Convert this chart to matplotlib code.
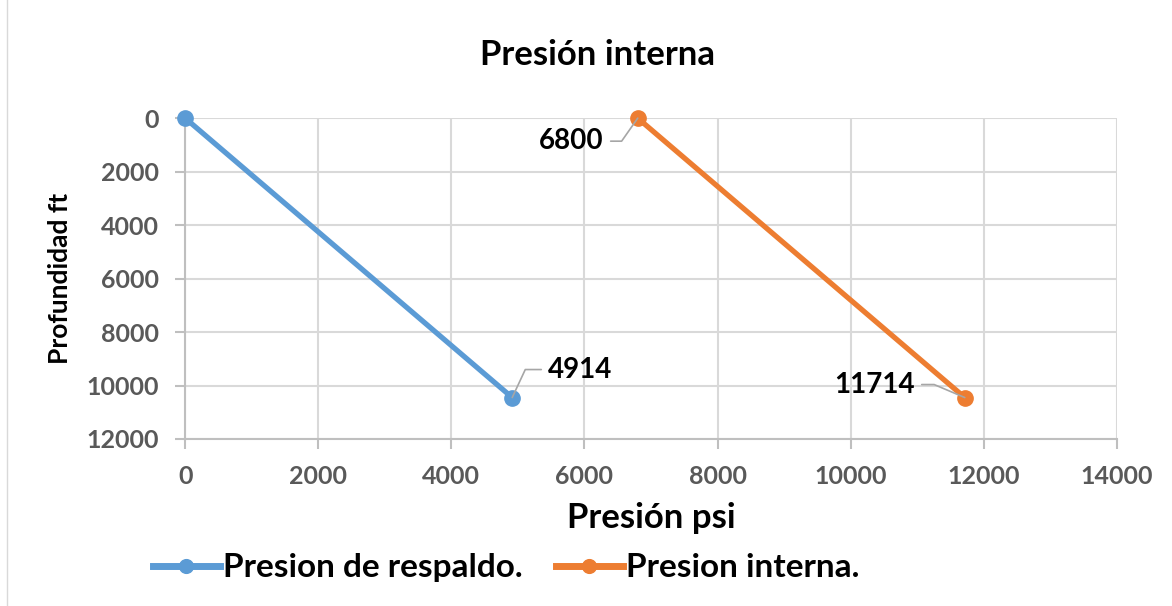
import matplotlib.pyplot as plt
from matplotlib.lines import Line2D

# datos
respaldo_x = [0, 4914]
respaldo_y = [0, 10450]
interna_x = [6800, 11714]
interna_y = [0, 10450]
x_ticks = [0, 2000, 4000, 6000, 8000, 10000, 12000, 14000]
y_ticks = [0, 2000, 4000, 6000, 8000, 10000, 12000]

AZUL = '#5B9BD5'
NARANJA = '#ED7D31'
GRIS = '#595959'

plt.rcParams['font.family'] = ['Lato', 'DejaVu Sans']
plt.rcParams['font.weight'] = 'bold'

fig = plt.figure(figsize=(11.72, 6.06), dpi=100)
ax = fig.add_axes([0.158, 0.2756, 0.795, 0.5294])

ax.plot(respaldo_x, respaldo_y, color=AZUL, lw=3.8, marker='o', ms=11,
        label='Presion de respaldo.', zorder=3, clip_on=False)
ax.plot(interna_x, interna_y, color=NARANJA, lw=3.8, marker='o', ms=11,
        label='Presion interna.', zorder=3, clip_on=False)

ax.set_xlim(0, 14000)
ax.set_ylim(12000, 0)
ax.set_xticks(x_ticks)
ax.set_yticks(y_ticks)
ax.grid(True, color='#D9D9D9', lw=1.5)
ax.set_axisbelow(True)
for s in ['top', 'right']:
    ax.spines[s].set_visible(False)
for s in ['left', 'bottom']:
    ax.spines[s].set_color('#BFBFBF')
    ax.spines[s].set_linewidth(1.5)
ax.tick_params(colors='#BFBFBF', labelcolor=GRIS, labelsize=18, length=7, width=1.5)
ax.tick_params(axis='x', pad=12)
ax.tick_params(axis='y', pad=12)

fig.text(0.51, 0.909, 'Presión interna', fontsize=25, fontweight='bold',
         ha='center', va='center')
ax.set_xlabel('Presión psi', fontsize=25, fontweight='bold', labelpad=10)
ax.set_ylabel('Profundidad ft', fontsize=19, fontweight='bold', labelpad=10)

# etiquetas de datos con linea guia
guia = dict(arrowstyle='-', color='#A6A6A6', lw=1.2, shrinkA=3, shrinkB=0)
ax.annotate(str(interna_x[0]), (interna_x[0], interna_y[0]), xytext=(-34, -23),
            textcoords='offset pixels', ha='right', va='center', fontsize=20,
            arrowprops=dict(guia, connectionstyle='angle,angleA=0,angleB=55'))
ax.annotate(str(respaldo_x[1]), (respaldo_x[1], respaldo_y[1]), xytext=(36, 28),
            textcoords='offset pixels', ha='left', va='center', fontsize=20,
            arrowprops=dict(guia, connectionstyle='angle,angleA=0,angleB=65'))
ax.annotate(str(interna_x[1]), (interna_x[1], interna_y[1]), xytext=(-50, 13),
            textcoords='offset pixels', ha='right', va='center', fontsize=20,
            arrowprops=dict(guia, connectionstyle='angle,angleA=0,angleB=157'))

leg = fig.legend(loc='center', bbox_to_anchor=(0.432, 0.063), ncol=2, frameon=False,
                 fontsize=24, handlelength=2.0, handletextpad=0.1, columnspacing=1.0,
                 markerscale=0.9)
for h in leg.legend_handles:
    h.set_linewidth(5)

# borde izquierdo de la figura
fig.add_artist(Line2D([0.006, 0.006], [0.0, 1.0], transform=fig.transFigure,
                      color='#D9D9D9', lw=1))

fig.savefig('out.png', dpi=100)
